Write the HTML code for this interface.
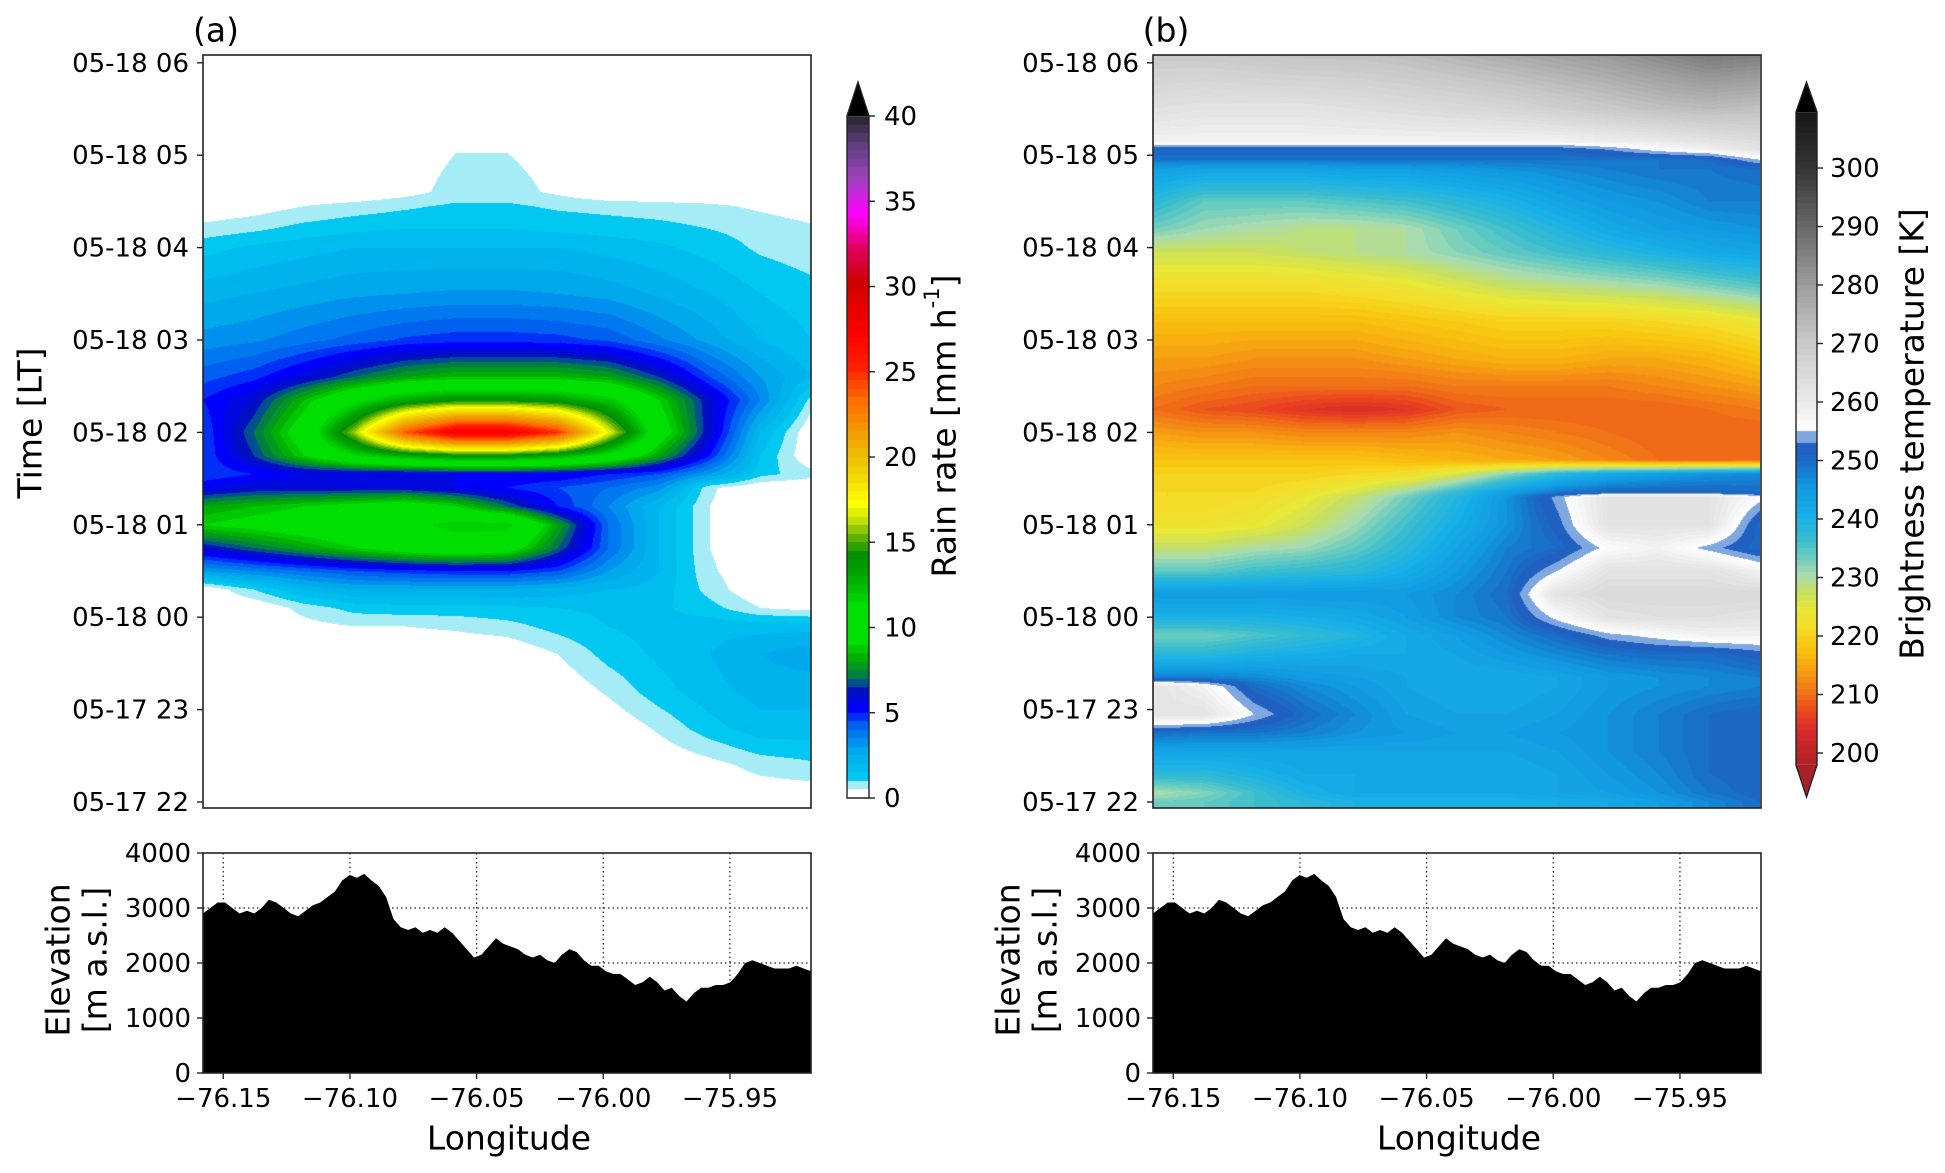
<!DOCTYPE html>
<html><head><meta charset="utf-8"><style>
html,body{margin:0;padding:0;background:#fff;}
#wrap{position:relative;width:1945px;height:1173px;overflow:hidden;font-family:"DejaVu Sans","Liberation Sans",sans-serif;}
canvas{position:absolute;}
svg{position:absolute;left:0;top:0;}
svg text{font-family:"DejaVu Sans","Liberation Sans",sans-serif;fill:#000;}
</style></head><body>
<div id="wrap">
<canvas id="cA" style="left:203px;top:55px" width="608" height="753"></canvas>
<canvas id="cB" style="left:1153px;top:55px" width="607" height="753"></canvas>
<canvas id="cbA" style="left:847px;top:80px" width="22" height="720"></canvas>
<canvas id="cbB" style="left:1796px;top:80px" width="21" height="720"></canvas>
<svg id="svg" width="1945" height="1173"></svg>
</div>
<script>
// ---------- DATA ----------
const colLons = [-76.158,-76.138,-76.118,-76.098,-76.078,-76.058,-76.038,-76.018,-75.998,-75.978,-75.958,-75.938,-75.918];
const timeTickLabels = ["05-17 22","05-17 23","05-18 00","05-18 01","05-18 02","05-18 03","05-18 04","05-18 05","05-18 06"];
const lonTicks = [-76.15,-76.10,-76.05,-76.00,-75.95];
const lonTickLabels = ["\u221276.15","\u221276.10","\u221276.05","\u221276.00","\u221275.95"];
const elevTicks = [0,1000,2000,3000,4000];
const rainTicks = [0,5,10,15,20,25,30,35,40];
const btTicks = [200,210,220,230,240,250,260,270,280,290,300];
// hours after 05-17 22:00
const rainTimes = [0,0.4,0.8,1.2,1.6,1.9,2.1,2.3,2.5,2.75,3.0,3.2,3.4,3.55,3.75,4.0,4.35,4.6,5.0,5.5,6.0,6.2,6.45,6.6,8.1];
const rainGrid = [
[0,0,0,0,0,0,0,0,0,0,0,0,0],
[0,0,0,0,0,0,0,0,0,0,0.3,0.7,0.9],
[0,0,0,0,0,0,0,0,0,0.6,1.3,1.8,1.8],
[0,0,0,0,0,0,0,0,0.6,1.3,1.8,2.2,2.2],
[0,0,0,0,0,0,0,0.5,1.2,1.6,2,2.5,2.8],
[0,0,0.3,0.5,0.5,0.6,0.8,1.2,1.5,1.7,1.8,1.8,1.8],
[0,0,0.7,1.2,1.3,1.3,1.4,1.5,1.6,1.6,1.2,0.5,0.3],
[0,1,2,2.5,2.5,2.5,2.5,2.3,2,1.8,0.8,0,0],
[3,3.5,4,4.5,4.8,5,5,4.5,3,2,0.6,0,0],
[6,7,8,9,10,10.5,10,7,4,2,0.5,0,0],
[9,9.5,10,10.5,11,12,12,8,4,2,0.5,0,0],
[8,8.5,9,9.5,10,9,7,5,3.5,2,0.5,0,0],
[5.5,6,6,6,6,5.5,5,4.5,4,3.2,0.6,0,0],
[4.5,5,5.5,5.5,5.5,5.5,5.5,5.5,5,4.5,3,1.2,0.7],
[4.5,6.5,9,11.5,13,14,14,13,11,8,5,1.5,0],
[4.5,7,10,16,24,28,28,25,17,10,6,2,0],
[5,6,8.5,11,13,14,14,13.5,12,9,6,3.5,0.8],
[4.3,4.8,5.8,7,8,8.5,8.5,8.5,8,6.5,4.5,3,2],
[3.2,3.4,3.8,4.2,4.6,4.8,4.8,4.7,4.4,3.6,2.8,2,1.5],
[2.3,2.5,2.7,2.9,3,3.1,3.1,3,2.8,2.4,2,1.5,1.2],
[1.3,1.6,1.8,2,2,2,2,2,1.8,1.6,1.3,0.9,0.7],
[0.7,0.9,1.2,1.4,1.5,1.5,1.5,1.4,1.3,1.2,1.0,0.8,0.6],
[0,0.2,0.5,0.7,0.9,1.1,1.1,0.9,0.8,0.7,0.6,0.4,0.2],
[0,0,0,0,0.3,0.7,0.7,0.4,0,0,0,0,0],
[0,0,0,0,0,0,0,0,0,0,0,0,0]];
const btTimes = [0,0.1,0.3,0.55,0.75,0.95,1.25,1.35,1.6,1.8,2.0,2.25,2.5,2.75,3.0,3.3,3.35,3.55,3.7,4.0,4.25,4.5,4.8,5.2,5.6,5.95,6.2,6.5,6.85,6.95,7.06,7.15,7.5,8.1];
const btGrid = [
[233,234,236,238,240,240,240,240,241,242,244,247,250],
[230,232,236,240,242,242,242,242,243,244,246,249,251],
[238,238,240,242,242,242,242,242,243,245,247,250,251],
[243,243,243,243,243,243,243,243,244,246,248,250,251],
[250,249,249,248,246,245,244,244,245,246,248,250,251],
[262,262,255,250,247,244,243,243,244,246,248,250,251],
[262,258,250,247,245,243,242,242,243,245,246,247,248],
[248,248,247,245,244,243,242,242,243,245,246,247,248],
[238,238,240,241,242,242,243,245,247,249,250,250,252],
[233,233,235,237,239,242,244,247,250,254,256,258,258],
[240,240,240,241,242,244,247,249,256,262,263,263,262],
[245,245,245,245,245,245,247,250,262,265,265,265,265],
[234,234,236,237,238,241,245,249,255,262,262,262,258],
[228,228,230,231,234,238,243,248,250,256,258,254,250],
[223,223,224,227,231,236,241,246,252,262,262,262,250],
[221,221,222,224,228,233,239,246,254,262,262,262,256],
[221,221,221,223,226,231,237,244,249,251,251,251,250],
[220,220,220,220,221,222,226,232,238,242,244,246,247],
[218,218,218,218,218,217,216,215,214,212,210,210,210],
[214,213,213,212,212,212,213,212,211,210,209,209,209],
[210,208,207,205,204,205,208,209,209,209,209,210,211],
[212,211,210,210,210,210,211,211,211,211,212,213,214],
[214,214,213,213,213,214,215,216,216,215,215,216,218],
[217,217,217,217,217,218,219,220,220,220,221,222,224],
[222,222,222,222,223,224,226,228,229,230,231,233,235],
[227,227,227,228,229,230,232,234,236,238,240,242,243],
[233,231,230,229,229,230,233,236,239,242,244,245,246],
[238,234,234,234,235,236,238,240,243,245,246,248,248],
[244,243,243,243,244,244,245,246,247,248,249,249,250],
[249,249,249,249,249,249,249,249,249,249,249,250,255],
[251,251,251,251,251,251,251,251,251,253,256,258,262],
[258,258,258,258,258,258,258,258,258,259,260,262,264],
[263,262,262,262,263,264,265,266,268,270,272,273,272],
[270,270,271,272,272,273,275,277,279,281,284,287,286]];
const elevation = [2900,3000,3100,3100,3000,2900,2950,2900,3000,3150,3100,3000,2900,2850,2950,3050,3100,3200,3300,3500,3600,3550,3620,3500,3400,3200,2800,2650,2600,2650,2550,2600,2550,2650,2550,2400,2250,2100,2150,2300,2450,2350,2300,2250,2150,2100,2150,2050,2000,2150,2250,2200,2050,1950,1950,1850,1800,1800,1700,1600,1650,1750,1650,1500,1550,1400,1300,1450,1550,1550,1600,1600,1650,1800,2000,2050,2000,1950,1900,1900,1900,1950,1900,1850];

// ---------- SCALES ----------
const lonL=-76.158, lonR=-75.918, axW=608;
const tY = t => 802 - t*92.4;
const yT = y => (802 - y)/92.4;
const panels=[{x0:203,name:'a'},{x0:1153,name:'b'}];
const lonX = (p,l) => p.x0 + (l-lonL)/(lonR-lonL)*axW;
const elY = e => 1073 - e/4000*220;

function hex(c){c=c.replace('#','');if(c.length==3)c=c.split('').map(a=>a+a).join('');return [parseInt(c.substr(0,2),16),parseInt(c.substr(2,2),16),parseInt(c.substr(4,2),16)];}
function makeMap(stops){const s=stops.map(a=>[a[0],hex(a[1])]);return v=>{if(v<=s[0][0])return s[0][1];for(let i=0;i<s.length-1;i++){if(v<=s[i+1][0]){const f=(v-s[i][0])/(s[i+1][0]-s[i][0]);return s[i][1].map((c,k)=>Math.round(c+(s[i+1][1][k]-c)*f));}}return s[s.length-1][1];};}
const rainMap = makeMap([[0.5,'#a6ecf7'],[1,'#00c8f0'],[2.5,'#00a8ec'],[4,'#0060f0'],[5,'#0000ff'],[6,'#0010c0'],[6.5,'#005090'],[7,'#008040'],[8,'#00b000'],[9,'#00e000'],[11,'#00e000'],[13,'#00a000'],[14,'#009000'],[15,'#60b000'],[16,'#c0e000'],[17,'#ffff00'],[19,'#f0d000'],[21,'#f0a000'],[23,'#ff7000'],[25,'#ff2000'],[27,'#ff0000'],[30,'#d00000'],[32,'#e00060'],[34,'#ff00ff'],[36,'#a040c0'],[38,'#604080'],[40,'#202020']]);
const rainColor = v => { if(v<0.5) return [255,255,255]; return rainMap(Math.floor(v*2)/2); };
const btMap = makeMap([[197,'#a82028'],[203,'#d82828'],[206,'#e84020'],[209,'#f06a18'],[212,'#f48c14'],[215,'#f8b010'],[218,'#f8c810'],[221,'#f4dc28'],[224,'#e8e838'],[227,'#c8e060'],[230,'#a8dcb0'],[233,'#68ccc0'],[236,'#38bcd0'],[240,'#18b0e8'],[245,'#1098e0'],[249,'#1870c8'],[251,'#2060c0'],[252.5,'#2060c0'],[253,'#80a8e0'],[254.4,'#80a8e0'],[254.5,'#ffffff'],[260,'#e8e8e8'],[270,'#c8c8c8'],[280,'#9a9a9a'],[290,'#666666'],[300,'#333333'],[311,'#111111']]);
const btColor = v => btMap(Math.floor(v));

function sample(times,grid,t,lon){
  let fc=(lon-colLons[0])/(colLons[1]-colLons[0]); fc=Math.max(0,Math.min(colLons.length-1.0001,fc));
  const c=Math.floor(fc), fx=fc-c;
  let i=0; if(t<=times[0]) i=0; else { while(i<times.length-2 && t>times[i+1]) i++; }
  let ft=(t-times[i])/(times[i+1]-times[i]); ft=Math.max(0,Math.min(1,ft));
  const a=grid[i][c]*(1-fx)+grid[i][c+1]*fx, b=grid[i+1][c]*(1-fx)+grid[i+1][c+1]*fx;
  return a*(1-ft)+b*ft;
}
function drawField(id,times,grid,colorFn){
  const cv=document.getElementById(id),ctx=cv.getContext('2d'),W=cv.width,H=cv.height,img=ctx.createImageData(W,H);
  for(let py=0;py<H;py++){const t=yT(55+py+0.5);for(let px=0;px<W;px++){const lon=lonL+(px+0.5)/W*(lonR-lonL);const col=colorFn(sample(times,grid,t,lon));const k=(py*W+px)*4;img.data[k]=col[0];img.data[k+1]=col[1];img.data[k+2]=col[2];img.data[k+3]=255;}}
  ctx.putImageData(img,0,0);
}
drawField('cA',rainTimes,rainGrid,rainColor);
drawField('cB',btTimes,btGrid,btColor);

function drawBar(id,y0,y1,valAt,colorFn){const cv=document.getElementById(id),ctx=cv.getContext('2d');for(let y=y0;y<y1;y++){const c=colorFn(valAt(y+0.5));ctx.fillStyle='rgb('+c+')';ctx.fillRect(0,y-80,cv.width,1);}}
const rainY = v => 798 - v/40*682;
const btY = v => 168 + (300-v)*5.85;
drawBar('cbA',116,798,y=>(798-y)/682*40,rainColor);
drawBar('cbB',112,765,y=>300-(y-168)/5.85,btColor);

// ---------- SVG ----------
const NS='http://www.w3.org/2000/svg', svg=document.getElementById('svg');
function el(tag,attrs,parent){const e=document.createElementNS(NS,tag);for(const k in attrs)e.setAttribute(k,attrs[k]);(parent||svg).appendChild(e);return e;}
function txt(s,x,y,size,anchor,parent,rot){const e=el('text',{x:x,y:y,'font-size':size,'text-anchor':anchor||'middle','dominant-baseline':'central'},parent);if(rot)e.setAttribute('transform','rotate(-90 '+x+' '+y+')');e.textContent=s;return e;}
const TS=26, TT=33;
panels.forEach((p,pi)=>{
  const g=el('g',{});
  
  
  const fr=el('rect',{x:p.x0,y:55,width:axW,height:753,fill:'none',stroke:'#222','stroke-width':1.6},g);
  
  
  const pl=txt('('+p.name+')',p.x0+13,30,TT,'middle',g);
  
  
  timeTickLabels.forEach((lab,i)=>{const y=tY(i);el('line',{x1:p.x0-6,x2:p.x0,y1:y,y2:y,stroke:'#222','stroke-width':1.4},g);
    const t=txt(lab,p.x0-14,y+1,TS,'end',g);
    
    });
  if(pi===0){const yt=txt('Time [LT]',30,423,TT,'middle',g,true);
    
    }
  for(let i=0;i<lonTicks.length;i++){const x=lonX(p,lonTicks[i]);el('line',{x1:x,x2:x,y1:853,y2:1073,stroke:'#222','stroke-width':1.2,'stroke-dasharray':'1.5,3'},g);}
  [1000,2000,3000].forEach(e=>el('line',{x1:p.x0,x2:p.x0+axW,y1:elY(e),y2:elY(e),stroke:'#222','stroke-width':1.2,'stroke-dasharray':'1.5,3'},g));
  let d='M'+p.x0+' 1073';
  elevation.forEach((e,i)=>{d+=' L'+(p.x0+i/(elevation.length-1)*axW).toFixed(1)+' '+elY(e).toFixed(1);});
  d+=' L'+(p.x0+axW)+' 1073 Z';
  const ep=el('path',{d:d,fill:'#000'},g);
  
  
  const ef=el('rect',{x:p.x0,y:853,width:axW,height:220,fill:'none',stroke:'#222','stroke-width':1.6},g);
  
  
  elevTicks.forEach(e=>{const y=elY(e);el('line',{x1:p.x0-6,x2:p.x0,y1:y,y2:y,stroke:'#222','stroke-width':1.4},g);
    const t=txt(String(e),p.x0-12,y+1,TS,'end',g);
    
    });
  lonTicks.forEach((l,i)=>{const x=lonX(p,l);el('line',{x1:x,x2:x,y1:1073,y2:1079,stroke:'#222','stroke-width':1.4},g);
    const t=txt(lonTickLabels[i],x,1099,TS,'middle',g);
    
    });
  const xt=txt('Longitude',p.x0+axW/2+2,1138,TT,'middle',g);
  
  
  const e1=txt('Elevation',p.x0-145,960,TT,'middle',g,true);
  
  
  const e2=txt('[m a.s.l.]',p.x0-108,960,TT,'middle',g,true);
  
  
});
{const g=el('g',{});
 
 
 el('polygon',{points:'847,116 869,116 858,82',fill:'#000'},g);
 el('path',{d:'M847 798 L847 116 L858 82 L869 116 L869 798 Z',fill:'none',stroke:'#222','stroke-width':1.4},g);
 rainTicks.forEach(v=>{const y=rainY(v);el('line',{x1:869,x2:875,y1:y,y2:y,stroke:'#222','stroke-width':1.4},g);
   const t=txt(String(v),884,y+1,TS,'start',g);
   
   });
 const tt=el('text',{x:944,y:426,'font-size':TT,'text-anchor':'middle','dominant-baseline':'central',transform:'rotate(-90 944 426)'},g);
 
 
 tt.innerHTML='Rain rate [mm h<tspan font-size="21" dy="-12">-1</tspan><tspan dy="12">]</tspan>';
}
{const g=el('g',{});
 
 
 el('polygon',{points:'1796,112 1817,112 1806.5,82',fill:'#000'},g);
 el('polygon',{points:'1796,765 1817,765 1806.5,797',fill:'#a82028'},g);
 el('path',{d:'M1796 765 L1796 112 L1806.5 82 L1817 112 L1817 765 L1806.5 797 Z',fill:'none',stroke:'#222','stroke-width':1.4},g);
 btTicks.forEach(v=>{const y=btY(v);el('line',{x1:1817,x2:1823,y1:y,y2:y,stroke:'#222','stroke-width':1.4},g);
   const t=txt(String(v),1830,y+1,TS,'start',g);
   
   });
 const tt=txt('Brightness temperature [K]',1912,434,TT,'middle',g,true);
 
 
}
</script>
</body></html>
